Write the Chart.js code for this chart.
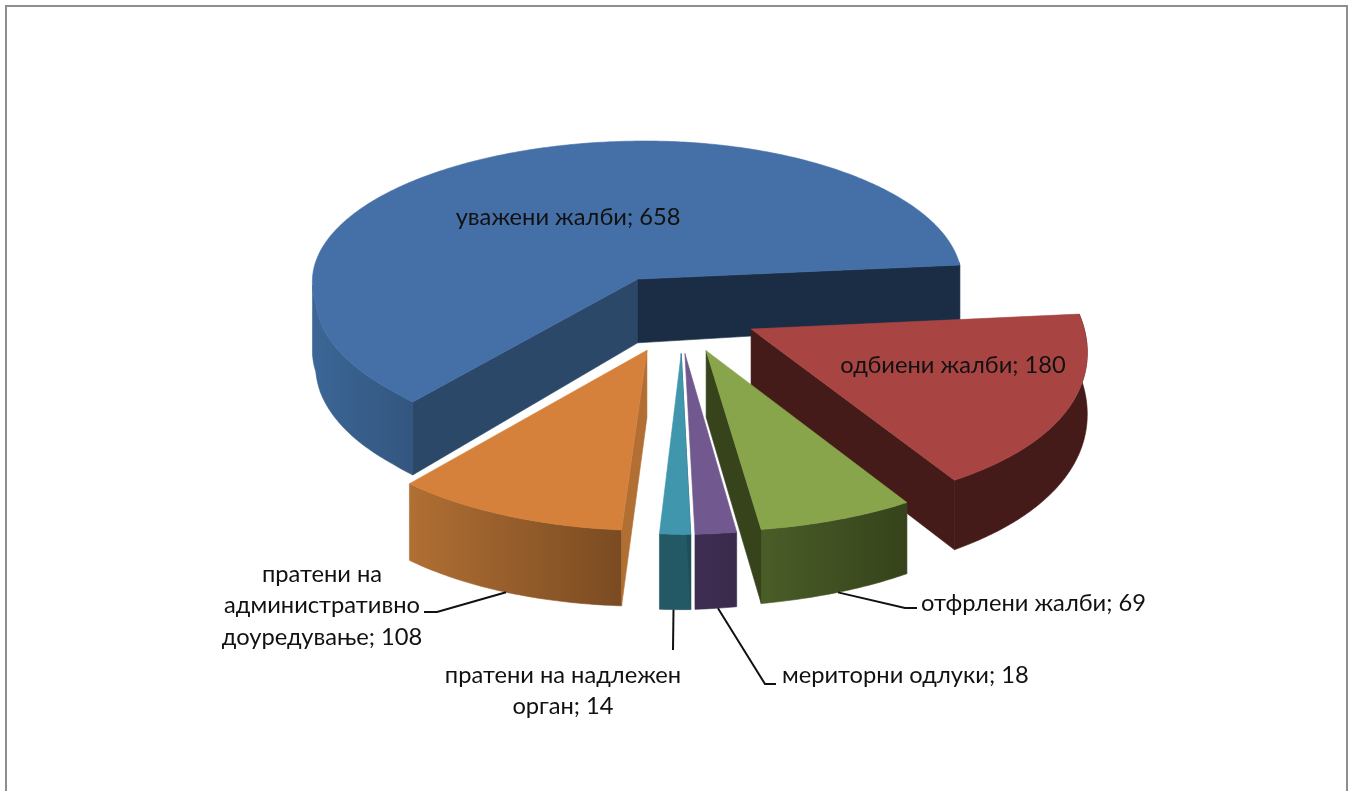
<!DOCTYPE html>
<html><head><meta charset="utf-8">
<style>
html,body{margin:0;padding:0;background:#fff;overflow:hidden}
#wrap{position:relative;width:1354px;height:791px}
#frame{position:absolute;left:5px;top:5px;width:1339px;height:800px;border:2.5px solid #8e8e8e}
canvas{position:absolute;left:0;top:0}
</style>
<script src="https://cdn.jsdelivr.net/npm/chart.js@4"></script>
</head><body>
<div id="wrap"><div id="frame"></div><canvas id="c" width="1354" height="791"></canvas></div>
<script>
const categories = ['уважени жалби','одбиени жалби','отфрлени жалби','мериторни одлуки','пратени на надлежен орган','пратени на административно доуредување'];
const values = [658,180,69,18,14,108];
const explode = [81,81,81,81,81,81];
const explodeTurn = [-2,0,0,0,-3,0];
const topColors = ['#4570a7','#a84543','#88a54c','#71588f','#3f96ad','#d6813b'];
const rimLeft = ['#3b6696','#451b19','#4a5d28','#3d2d52','#235865','#b06f33'];
const rimRight = ['#33567f','#451b19','#36431b','#3a2b4c','#235865','#7a4b22'];
const wallStart = ['#2b4869','#451b19','#36431b','#2e2340','#1f4e5a','#b26f33'];
const wallEnd = ['#1a2d45','#451b19','#36431b','#2e2340','#1f4e5a','#b26f33'];
const drawOrder = [0,1,5,4,3,2];
const leaderAnchor = [0.5,0.5,0.5,0.45,0.55,0.5];
const FONT = '23.7px Lato, "Open Sans", sans-serif';
const SQ_A = 0.49, SQ_B = 0.07, SQ_C = 60, SHEAR_Y = -0.03, SHEAR_X = 0.03, SHEAR_X_BACK = 0.05, TUCK = 0.00021, TUCK_MAX = 150;
const PERSP_RIGHT = 0.0004, PERSP_BACK = 0.0001, PERSP_LEFT = 0.000286, PIVOT_LEFT = -41;
const DEPTH = 65, DEPTH_X = -0.015, DEPTH_Y = 0.025;
const inlineLabels = [
  {lines:['уважени жалби; 658'],x:568,y:217,align:'center'},
  {lines:['одбиени жалби; 180'],x:953,y:365,align:'center'},
  {lines:['отфрлени жалби; 69'],x:921,y:603,align:'left'},
  {lines:['мериторни одлуки; 18'],x:782,y:675,align:'left'},
  {lines:['пратени на надлежен','орган; 14'],x:563,y:675,align:'center'},
  {lines:['пратени на','административно','доуредување; 108'],x:322,y:574,align:'center'}
];
const leaders = {2:[[905,608],[917,608]],3:[[765,684],[776,684]],4:[[673,650]],5:[[437,612],[424,612]]};

function project(a,ox,oy,cx,cy,r,bottom){
  const ux=ox+Math.cos(a)*r, uy=oy+Math.sin(a)*r;
  const w=ux>0?(uy>0?1-PERSP_RIGHT*uy:1-PERSP_BACK*uy):1-PERSP_LEFT*Math.max(uy-PIVOT_LEFT,0);
  const z=bottom?DEPTH+DEPTH_X*ux+DEPTH_Y*uy:0;
  const sy=SQ_A*uy+SQ_B*(Math.hypot(uy,SQ_C)-SQ_C);
  const tuck=TUCK*Math.max(-ux,0)*Math.min(Math.max(uy,0),TUCK_MAX);
  return [cx+ux/w+(uy>0?SHEAR_X:SHEAR_X_BACK)*uy, cy+sy+SHEAR_Y*ux+z-tuck];
}
const pie3d = {
  id:'pie3d',
  beforeDatasetsDraw(chart){
    const ctx=chart.ctx, arcs=chart.getDatasetMeta(0).data;
    const poly=(pts,fill)=>{ctx.beginPath();pts.forEach((p,i)=>i?ctx.lineTo(p[0],p[1]):ctx.moveTo(p[0],p[1]));ctx.closePath();ctx.fillStyle=fill;ctx.fill();ctx.strokeStyle=fill;ctx.lineWidth=0.6;ctx.stroke();};
    const proj={};
    for(const i of drawOrder){
      const el=arcs[i], s=el.startAngle, e=el.endAngle, R=el.outerRadius, off=el.options.offset;
      const dir=(s+e)/2+explodeTurn[i]*Math.PI/180;
      const ox=Math.cos(dir)*off, oy=Math.sin(dir)*off;
      const P=(a,r,b)=>project(a,ox,oy,el.x,el.y,r,b);
      proj[i]=P;
      const n=Math.max(12,Math.ceil((e-s)*90));
      let run=[];
      const flush=()=>{
        if(run.length>1){
          const f=run.map(a=>P(a,R,false)), b=run.map(a=>P(a,R,true)).reverse();
          const xs=f.map(p=>p[0]), g=ctx.createLinearGradient(Math.min(...xs),0,Math.max(...xs),0);
          g.addColorStop(0,rimLeft[i]);g.addColorStop(1,rimRight[i]);
          poly(f.concat(b),g);
        }
        run=[];
      };
      for(let k=0;k<=n;k++){
        const a=s+(e-s)*k/n, limit=Math.cos(a)<0?-0.03:-0.06;
        if(Math.sin(a)>=limit) run.push(a); else flush();
      }
      flush();
      const wall=(a,col)=>poly([P(a,0,false),P(a,R,false),P(a,R,true),P(a,0,true)],col);
      if(Math.cos(s)<0) wall(s,wallStart[i]);
      if(Math.cos(e)>0) wall(e,wallEnd[i]);
      const top=[P(s,0,false)];
      for(let k=0;k<=n;k++) top.push(P(s+(e-s)*k/n,R,false));
      poly(top,topColors[i]);
    }
    ctx.strokeStyle='#111';ctx.lineWidth=2;
    for(const k of Object.keys(leaders)){
      const el=arcs[k], a=el.startAngle+(el.endAngle-el.startAngle)*leaderAnchor[k];
      const st=proj[k](a,el.outerRadius,true);
      ctx.beginPath();ctx.moveTo(st[0],st[1]);leaders[k].forEach(p=>ctx.lineTo(p[0],p[1]));ctx.stroke();
    }
    ctx.fillStyle='#111';ctx.font=FONT;ctx.textBaseline='middle';
    for(const l of inlineLabels){
      ctx.textAlign=l.align;
      l.lines.forEach((t,j)=>ctx.fillText(t,l.x,l.y+j*31.5));
    }
    return false;
  }
};
new Chart(document.getElementById('c'),{
  type:'pie',
  data:{labels:categories,datasets:[{data:values,offset:explode,backgroundColor:topColors,borderWidth:0}]},
  options:{
    responsive:false,animation:false,events:[],
    rotation:222,radius:325,
    layout:{padding:{bottom:169,left:2}},
    plugins:{legend:{display:false},tooltip:{enabled:false},title:{display:false}}
  },
  plugins:[pie3d]
});
</script>
</body></html>
